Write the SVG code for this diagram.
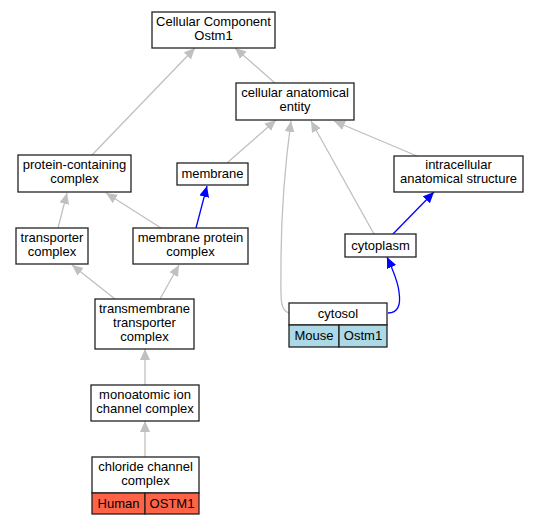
<svg xmlns="http://www.w3.org/2000/svg" width="539" height="525" viewBox="0 0 539 525">
<style>
.n{fill:#fff;stroke:#222;stroke-width:1.3}
.t{font-family:"Liberation Sans",Arial,sans-serif;font-size:13px;text-anchor:middle;fill:#000}
.g{fill:none;stroke:#c0c0c0;stroke-width:1.3}
.b{fill:none;stroke:#0000ff;stroke-width:1.3}
.red{fill:#ff6347;stroke:#222;stroke-width:1.3}
.lb{fill:#add8e6;stroke:#222;stroke-width:1.3}
</style>
<defs>
<marker id="ag" markerUnits="userSpaceOnUse" markerWidth="12" markerHeight="11" refX="11" refY="5" orient="auto"><path d="M0,0 L11,5 L0,10 z" fill="#c0c0c0"/></marker>
<marker id="ab" markerUnits="userSpaceOnUse" markerWidth="12" markerHeight="11" refX="11" refY="5" orient="auto"><path d="M0,0 L11,5 L0,10 z" fill="#0000ff"/></marker>
</defs>
<rect width="539" height="525" fill="#fff"/>
<g id="edges">
<path class="g" marker-end="url(#ag)" d="M92,155 L195,48"/>
<path class="g" marker-end="url(#ag)" d="M275,83 L235,48"/>
<path class="g" marker-end="url(#ag)" d="M227,163 L276,120"/>
<path class="g" marker-end="url(#ag)" d="M417,156 L334,121"/>
<path class="g" marker-end="url(#ag)" d="M374,234 L311,121"/>
<path class="g" marker-end="url(#ag)" d="M289,313 C279,311 281,295 281,265 C281,220 285,165 291,121"/>
<path class="b" marker-end="url(#ab)" d="M393,234 L434,192"/>
<path class="b" marker-end="url(#ab)" d="M388,313 C398,313 401,305 399,292 C398,282 393,270 387,257"/>
<path class="g" marker-end="url(#ag)" d="M161,228 L106,193"/>
<path class="b" marker-end="url(#ab)" d="M196,228 L207,186"/>
<path class="g" marker-end="url(#ag)" d="M58,228 L67,193"/>
<path class="g" marker-end="url(#ag)" d="M115,299 L72,265"/>
<path class="g" marker-end="url(#ag)" d="M160,299 L179,265"/>
<path class="g" marker-end="url(#ag)" d="M145,385 L145,349"/>
<path class="g" marker-end="url(#ag)" d="M145,457 L145,421"/>
</g>
<g id="cc"><rect class="n" x="152" y="12" width="123" height="36"/><text class="t" x="213.5" y="26">Cellular Component</text><text class="t" x="213.5" y="40">Ostm1</text></g>
<g id="cae"><rect class="n" x="236" y="83" width="118" height="37"/><text class="t" x="295" y="97">cellular anatomical</text><text class="t" x="295" y="111">entity</text></g>
<g id="pcc"><rect class="n" x="18" y="155" width="113" height="37"/><text class="t" x="74.5" y="169">protein-containing</text><text class="t" x="74.5" y="183">complex</text></g>
<g id="membrane"><rect class="n" x="177" y="163" width="71" height="22"/><text class="t" x="212.5" y="178">membrane</text></g>
<g id="ias"><rect class="n" x="394" y="156" width="129" height="36"/><text class="t" x="458.5" y="169">intracellular</text><text class="t" x="458.5" y="183">anatomical structure</text></g>
<g id="cytoplasm"><rect class="n" x="345" y="234" width="71" height="23"/><text class="t" x="380.5" y="250">cytoplasm</text></g>
<g id="tc"><rect class="n" x="16" y="228" width="72" height="36"/><text class="t" x="52" y="242">transporter</text><text class="t" x="52" y="256">complex</text></g>
<g id="mpc"><rect class="n" x="133" y="228" width="115" height="36"/><text class="t" x="190.5" y="242">membrane protein</text><text class="t" x="190.5" y="256">complex</text></g>
<g id="ttc"><rect class="n" x="95" y="299" width="99" height="50"/><text class="t" x="144.5" y="313">transmembrane</text><text class="t" x="144.5" y="327">transporter</text><text class="t" x="144.5" y="341">complex</text></g>
<g id="mic"><rect class="n" x="91" y="385" width="108" height="36"/><text class="t" x="145" y="399">monoatomic ion</text><text class="t" x="145" y="413">channel complex</text></g>
<g id="ccc"><rect class="n" x="92" y="457" width="107" height="36"/><text class="t" x="145.5" y="471">chloride channel</text><text class="t" x="145.5" y="485">complex</text>
<rect class="red" x="92" y="493" width="53" height="21"/><rect class="red" x="145" y="493" width="54" height="21"/>
<text class="t" x="118.5" y="508">Human</text><text class="t" x="172" y="508">OSTM1</text></g>
<g id="cytosol"><rect class="n" x="289" y="303" width="98" height="22"/><text class="t" x="338" y="318">cytosol</text>
<rect class="lb" x="289" y="325" width="50" height="22"/><rect class="lb" x="339" y="325" width="48" height="22"/>
<text class="t" x="314" y="340">Mouse</text><text class="t" x="363" y="340">Ostm1</text></g>
</svg>
